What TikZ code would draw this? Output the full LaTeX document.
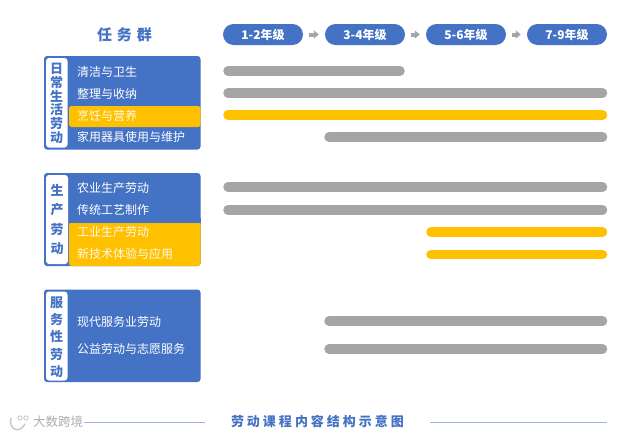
\documentclass[tikz,border=0pt]{standalone}
\usepackage{fontspec}
\setmainfont{Noto Sans CJK SC}
\usetikzlibrary{arrows.meta}
\definecolor{cblue}{HTML}{4472C4}
\definecolor{cyel}{HTML}{FFC000}
\definecolor{cgray}{HTML}{A5A5A5}
\definecolor{cline}{HTML}{9DB4DE}
\tikzset{
  x=1pt,y=-1pt,
  panel/.style={fill=cblue,rounded corners=3pt},
  hl/.style={fill=cyel,rounded corners=2.5pt},
  tab/.style={fill=white,rounded corners=3pt},
  row/.style={anchor=west,text=white,font=\fontsize{12}{12}\selectfont,inner sep=0pt},
  rowy/.style={row,text=white!92!cyel},
  tabch/.style={text=cblue,font=\fontsize{13}{13}\selectfont\bfseries,inner sep=0pt},
  pill/.style={fill=cblue,rounded corners=10.5pt,minimum width=80pt,minimum height=21pt,inner sep=0pt,text=white,font=\fontsize{12}{12}\selectfont\bfseries},
  bar/.style={line width=9.5pt,line cap=round,cgray},
  bary/.style={bar,cyel},
  flow/.style={-{Triangle[length=5pt,width=8pt]},line width=4pt,cgray,shorten <=6pt,shorten >=6pt},
  rule/.style={cline,line width=1pt},
}
\begin{document}
\begin{tikzpicture}
\useasboundingbox (0,0) rectangle (622,434);
\fill[white] (0,0) rectangle (622,434);

\node[text=cblue,font=\fontsize{15}{15}\selectfont\bfseries,inner sep=0pt] (title) at (124.5,35) {任\hspace{5pt}务\hspace{5pt}群};

% grade pills
\node[pill] (g1) at (263,34.5) {1-2年级};
\node[pill] (g2) at (365,34.5) {3-4年级};
\node[pill] (g3) at (466,34.5) {5-6年级};
\node[pill] (g4) at (567,34.5) {7-9年级};
\draw[flow] (g1) -- (g2);
\draw[flow] (g2) -- (g3);
\draw[flow] (g3) -- (g4);

% panel 1
\fill[panel] (44,56) rectangle (200.5,149.5);
\fill[tab] (46,58) rectangle (67.5,147.5);
\fill[hl] (69,106) rectangle (200.5,127);
\foreach \c/\y [count=\i] in {日/69,常/83,生/96,活/110,劳/124,动/138}
  \node[tabch] (a\i) at (56.5,\y) {\c};
\node[row] (r1) at (77,72) {清洁与卫生};
\node[row] (r2) at (77,93.5) {整理与收纳};
\node[rowy] (r3) at (77,115.5) {烹饪与营养};
\node[row] (r4) at (77,137) {家用器具使用与维护};

% panel 2
\fill[panel] (44,173) rectangle (200.5,266);
\fill[cyel,rounded corners=2.5pt] (69,222.5) rectangle (200.5,266);
\fill[cblue] (69,218) rectangle (200.5,223);
\fill[tab] (46,175) rectangle (68,264);
\foreach \c/\y [count=\i] in {生/190,产/210,劳/230,动/249}
  \node[tabch] (b\i) at (57,\y) {\c};
\node[row] (r5) at (77,188) {农业生产劳动};
\node[row] (r6) at (77,210) {传统工艺制作};
\node[rowy] (r7) at (77,232) {工业生产劳动};
\node[rowy] (r8) at (77,254) {新技术体验与应用};

% panel 3
\fill[panel] (44,289.5) rectangle (200.5,382);
\fill[tab] (46,291.5) rectangle (67.5,380.5);
\foreach \c/\y [count=\i] in {服/303,务/320,性/337,劳/355,动/372}
  \node[tabch] (c\i) at (56.5,\y) {\c};
\node[row] (r9) at (77,322) {现代服务业劳动};
\node[row] (r10) at (77,349) {公益劳动与志愿服务};

% bars
\draw[bar] (228,71) -- (400,71);
\draw[bar] (228,93) -- (602.5,93);
\draw[bary] (228,115) -- (602.5,115);
\draw[bar] (329,137) -- (602.5,137);
\draw[bar] (228,187) -- (602.5,187);
\draw[bar] (228,210) -- (602.5,210);
\draw[bary] (431,232) -- (602.5,232);
\draw[bary] (431,254.5) -- (602.5,254.5);
\draw[bar] (329,321) -- (602.5,321);
\draw[bar] (329,349) -- (602.5,349);

% footer
\node[text=cblue,font=\fontsize{13}{13}\selectfont\bfseries,inner sep=0pt] (cap) at (317.5,421) {劳\hspace{3pt}动\hspace{3pt}课\hspace{3pt}程\hspace{3pt}内\hspace{3pt}容\hspace{3pt}结\hspace{3pt}构\hspace{3pt}示\hspace{3pt}意\hspace{3pt}图};
\coordinate (ls) at (84,422);
\coordinate (le) at (205,422);
\coordinate (rs) at (430,422);
\coordinate (re) at (607,422);
\draw[rule] (ls) -- (le);
\draw[rule] (rs) -- (re);

% watermark
\draw[black!22,line width=1.4pt,line cap=round] (11,418) .. controls (8,430) and (20,434) .. (25,424);
\draw[black!22,line width=.8pt] (20,418) circle (2.2pt) (26,418) circle (2.2pt);
\node[text=black!32,font=\fontsize{12.5}{13}\selectfont,inner sep=0pt,anchor=west] (wm) at (33,422) {大数跨境};
\end{tikzpicture}
\end{document}
